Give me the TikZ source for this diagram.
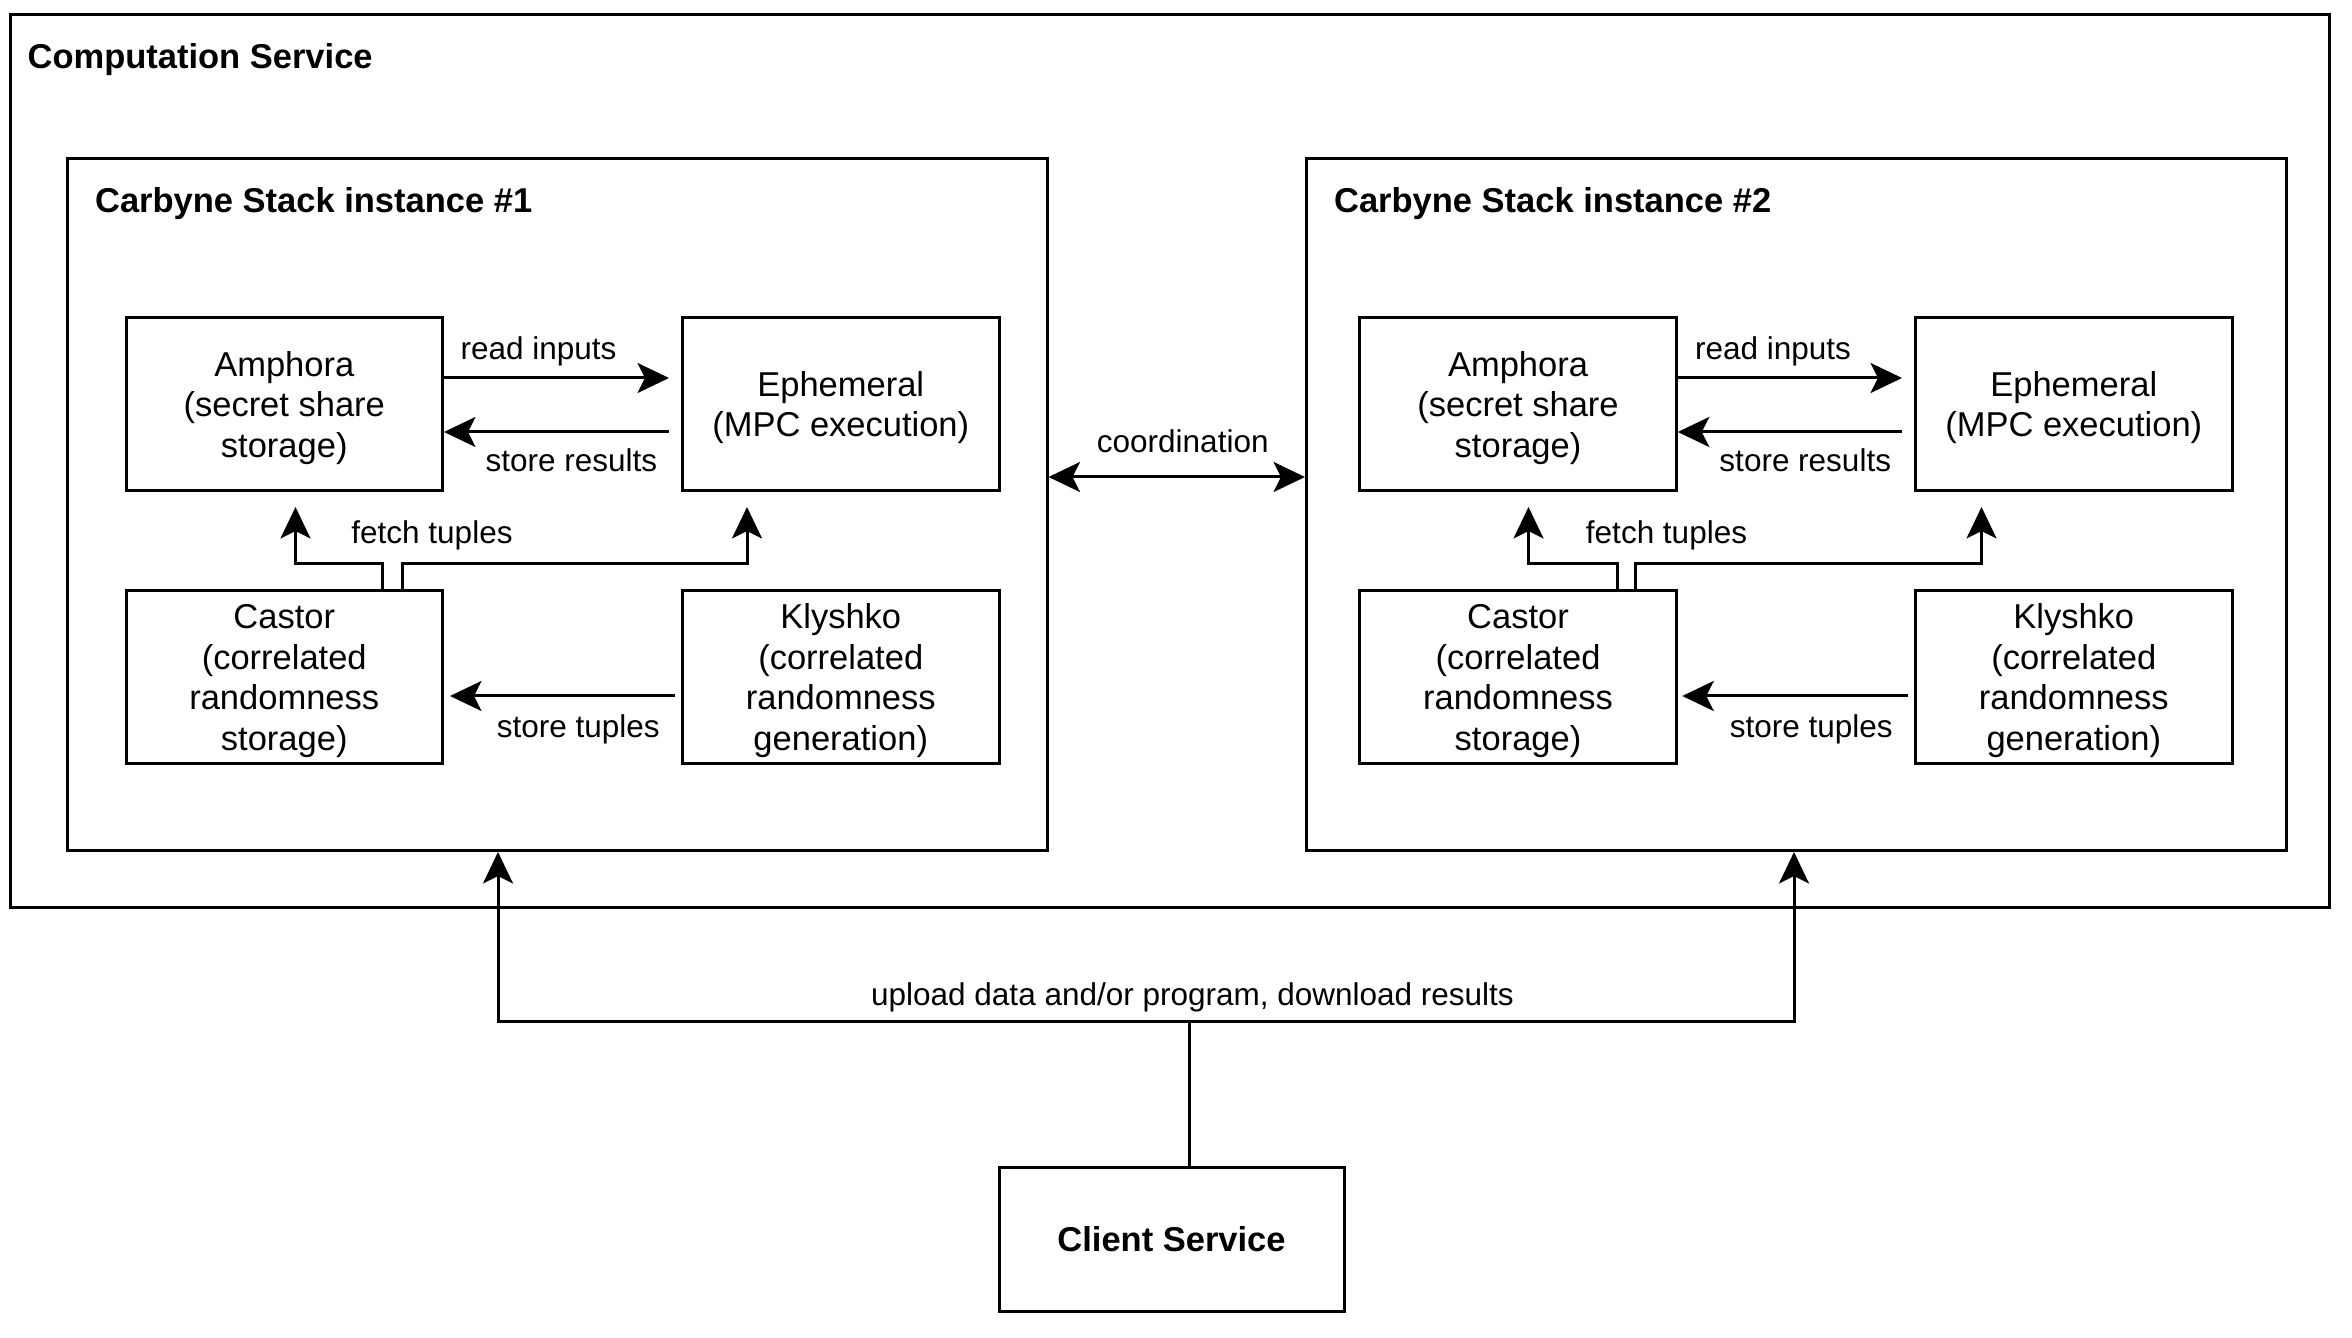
\documentclass[tikz,border=0pt]{standalone}
\usepackage{fontspec}
\setmainfont{Liberation Sans}
\usetikzlibrary{arrows.meta,calc}
\begin{document}
\begin{tikzpicture}[x=0.5pt,y=-0.5pt,
  plain/.style={font=\fontsize{10.5}{13.5}\selectfont},
  boxfont/.style={font=\fontsize{11.5}{13.5}\selectfont},
  boldt/.style={font=\fontsize{11.5}{13.5}\selectfont\bfseries},
  comp/.style={draw, line width=1pt, rectangle, align=center, inner sep=0pt, boxfont, text depth=0pt, minimum width=105.5pt, minimum height=57.5pt},
  frame/.style={draw, line width=1pt, rectangle, inner sep=0pt},
  lbl/.style={plain, inner sep=1pt, text depth=0pt},
  title/.style={boldt, inner sep=0pt, anchor=west},
  tip/.tip={Stealth[length=10.5pt,width=10pt,inset=2.5pt]},
  arr/.style={line width=1pt, -tip},
  arrboth/.style={line width=1pt, tip-tip}
]
\useasboundingbox (0,0) rectangle (1568,892);
% frames
\node[frame, minimum width=773pt, minimum height=297.5pt] (comp) at (780,307.5) {};
\node[title] (comptitle) at (18,40) {Computation Service};
\node[frame, minimum width=326.5pt, minimum height=230.5pt] (inst1) at (371.5,336.5) {};
\node[title] (t1) at (63,136) {Carbyne Stack instance \#1};
\node[frame, minimum width=326.5pt, minimum height=230.5pt] (inst2) at (1197.5,336.5) {};
\node[title] (t2) at (889,136) {Carbyne Stack instance \#2};
% instance 1 components
\node[comp] (amph1) at (189.5,269.5) {Amphora\\(secret share\\storage)};
\node[comp] (eph1) at (560.5,269.5) {Ephemeral\\(MPC execution)};
\node[comp] (cast1) at (189.5,451.5) {Castor\\(correlated\\randomness\\storage)};
\node[comp] (kly1) at (560.5,451.5) {Klyshko\\(correlated\\randomness\\generation)};
% instance 2 components
\node[comp] (amph2) at (1012,269.5) {Amphora\\(secret share\\storage)};
\node[comp] (eph2) at (1382.5,269.5) {Ephemeral\\(MPC execution)};
\node[comp] (cast2) at (1012,451.5) {Castor\\(correlated\\randomness\\storage)};
\node[comp] (kly2) at (1382.5,451.5) {Klyshko\\(correlated\\randomness\\generation)};
% client
\node[frame, minimum width=115pt, minimum height=48pt, boldt] (client) at (781,826) {Client Service};

% instance 1 connectors
\draw[arr] ($(amph1.east)+(0,-17.5)$) -- ($(eph1.west)+(-8,-17.5)$);
\draw[arr] ($(eph1.west)+(-8,18.5)$) -- ($(amph1.east)+(0,18.5)$);
\draw[arr] ($(kly1.west)+(-4,12.5)$) -- ($(cast1.east)+(4,12.5)$);
\draw[arr] ($(cast1.north)+(65.5,0)$) |- ($(amph1.south)+(7.5,48)$) -- ($(amph1.south)+(7.5,10)$);
\draw[arr] ($(cast1.north)+(78.5,0)$) |- ($(eph1.south)+(-62.5,48)$) -- ($(eph1.south)+(-62.5,10)$);
\node[lbl] (l1a) at (359,232) {read inputs};
\node[lbl] (l1b) at (381,307) {store results};
\node[lbl] (l1c) at (288,355) {fetch tuples};
\node[lbl] (l1d) at (385.5,484) {store tuples};

% instance 2 connectors
\draw[arr] ($(amph2.east)+(0,-17.5)$) -- ($(eph2.west)+(-8,-17.5)$);
\draw[arr] ($(eph2.west)+(-8,18.5)$) -- ($(amph2.east)+(0,18.5)$);
\draw[arr] ($(kly2.west)+(-4,12.5)$) -- ($(cast2.east)+(3,12.5)$);
\draw[arr] ($(cast2.north)+(66,0)$) |- ($(amph2.south)+(7,48)$) -- ($(amph2.south)+(7,10)$);
\draw[arr] ($(cast2.north)+(78,0)$) |- ($(eph2.south)+(-61.5,48)$) -- ($(eph2.south)+(-61.5,10)$);
\node[lbl] (l2a) at (1182,232) {read inputs};
\node[lbl] (l2b) at (1203.5,307) {store results};
\node[lbl] (l2c) at (1111,355) {fetch tuples};
\node[lbl] (l2d) at (1207.5,484) {store tuples};

% coordination
\draw[arrboth] ($(inst1.east)+(0,-18.5)$) -- ($(inst2.west)+(0,-18.5)$);
\node[lbl] (lc) at (788.5,294) {coordination};

% client connections
\draw[arr] ($(client.north)+(12,0)$) -- ($(client.north)+(12,-96)$) -| ($(inst1.south)+(-39.5,0)$);
\draw[arr] ($(client.north)+(12,-96)$) -| ($(inst2.south)+(-1.5,0)$);
\node[lbl] (lu) at (795,663) {upload data and/or program, download results};
\end{tikzpicture}
\end{document}
